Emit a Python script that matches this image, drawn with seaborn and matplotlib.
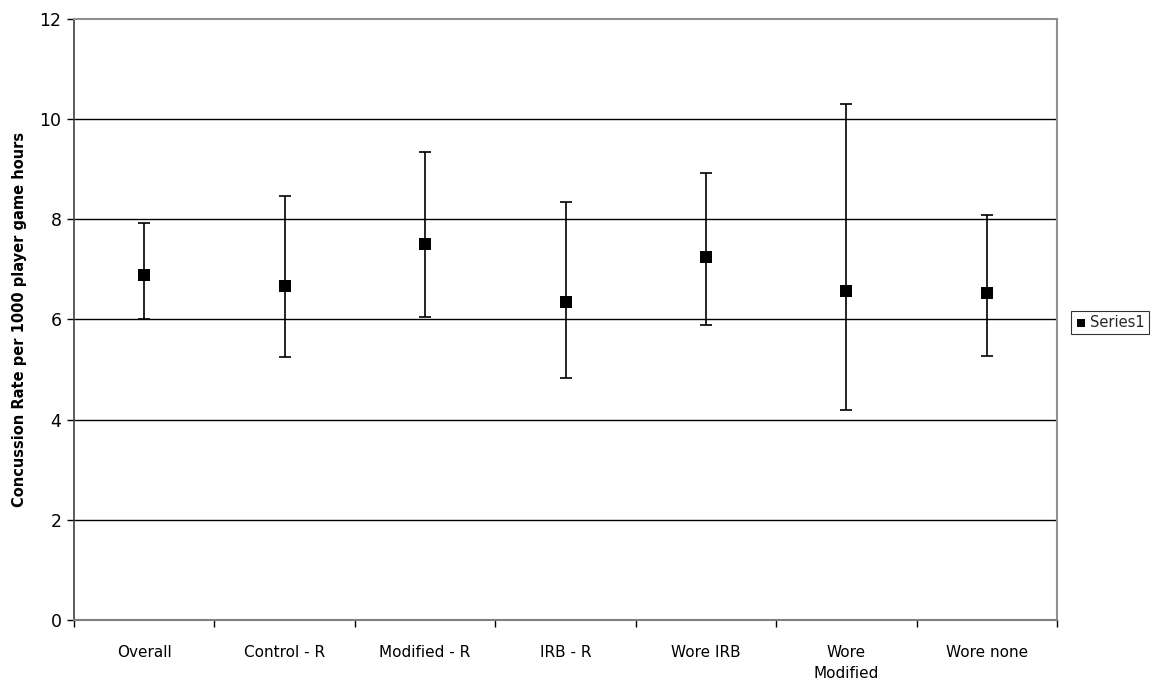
import matplotlib
matplotlib.use("Agg")
import matplotlib.pyplot as plt
import numpy as np
import pandas as pd
import seaborn as sns

categories = ["Overall", "Control - R", "Modified - R", "IRB - R",
              "Wore IRB", "Wore\nModified", "Wore none"]
rate = [6.89, 6.67, 7.50, 6.35, 7.25, 6.56, 6.53]
upper = [7.92, 8.47, 9.35, 8.34, 8.93, 10.30, 8.08]
lower = [6.00, 5.26, 6.04, 4.84, 5.90, 4.19, 5.28]

df = pd.DataFrame({"group": categories, "rate": rate,
                   "upper": upper, "lower": lower})
df["pos"] = np.arange(len(df))

sns.set_style("ticks")
plt.rcParams["font.family"] = ["DejaVu Sans"]

fig = plt.figure(figsize=(11.57, 6.84), dpi=100)
ax = fig.add_axes([0.064, 0.0936, 0.8496, 0.8786])

for y in [2, 4, 6, 8, 10]:
    ax.axhline(y, color="black", lw=1, zorder=0)

ax.errorbar(df["pos"], df["rate"],
            yerr=[df["rate"] - df["lower"], df["upper"] - df["rate"]],
            fmt="none", ecolor="black", elinewidth=1.2, capsize=4.5,
            capthick=1.2, zorder=2)
sns.scatterplot(data=df, x="pos", y="rate", marker="s", color="black",
                s=70, edgecolor="black", linewidth=0, ax=ax, zorder=3,
                label="Series1")

ax.set_xlim(-0.5, len(df) - 0.5)
ax.set_ylim(0, 12)
ax.set_yticks(range(0, 13, 2))
ax.set_xticks(df["pos"])
ax.set_xticklabels(categories, fontsize=11, color="black", linespacing=1.5)
ax.set_xticks(np.arange(-0.5, len(df), 1), minor=True)
ax.tick_params(axis="x", which="major", length=0, pad=18)
ax.tick_params(axis="x", which="minor", length=5, width=1, color="black",
               bottom=True)
ax.tick_params(axis="y", length=5, width=1, color="black", labelsize=12.5,
               labelcolor="black", pad=4, left=True)
ax.set_xlabel("")
ax.set_ylabel("Concussion Rate per 1000 player game hours",
              fontsize=10.5, fontweight="bold", color="black", labelpad=9)

for side in ["top", "right"]:
    ax.spines[side].set_color("#909090")
    ax.spines[side].set_linewidth(1.5)
ax.spines["left"].set_color("#404040")
ax.spines["bottom"].set_color("#808080")
ax.spines["left"].set_linewidth(1.2)
ax.spines["bottom"].set_linewidth(1.5)

leg = ax.legend(loc="center left", bbox_to_anchor=(0.9257, 0.5285),
                bbox_transform=fig.transFigure, frameon=True, fancybox=False,
                fontsize=10.5, handletextpad=0.2, borderpad=0.3,
                handlelength=0.8, markerscale=0.7, borderaxespad=0)
leg.get_frame().set_edgecolor("black")
leg.get_frame().set_linewidth(0.8)

fig.savefig("out.png", dpi=100)
